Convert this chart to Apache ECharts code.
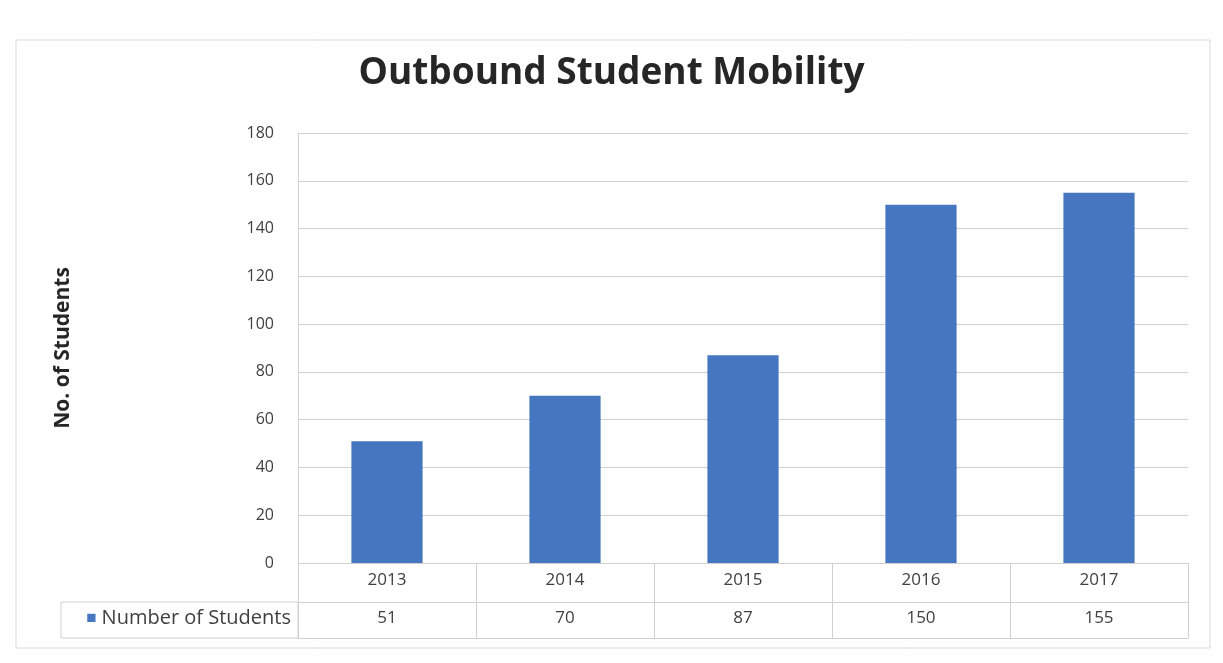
<!DOCTYPE html>
<html>
<head>
<meta charset="utf-8">
<script src="https://cdn.jsdelivr.net/npm/echarts@6/dist/echarts.min.js"></script>
<style>
html,body{margin:0;padding:0;background:#fff;}
#main{width:1223px;height:663px;}
</style>
</head>
<body>
<div id="main"></div>
<script>
const categories = ['2013', '2014', '2015', '2016', '2017'];
const studentCounts = [51, 70, 87, 150, 155];
const seriesName = 'Number of Students';
const yTicks = { min: 0, max: 180, interval: 20 };

const chart = echarts.init(document.getElementById('main'));
const lineColor = '#d0d0d0';
const barColor = '#4676c0';
const textColor = '#404040';
const fontFamily = '"Open Sans", "Liberation Sans", sans-serif';

chart.setOption({
  backgroundColor: '#ffffff',
  animation: false,
  title: {
    text: 'Outbound Student Mobility',
    left: 'center',
    top: 50,
    textStyle: { fontFamily: fontFamily, fontSize: 37, fontWeight: 'bold', color: '#262626' }
  },
  grid: { left: 298, right: 35, top: 133, bottom: 100, containLabel: false },
  xAxis: [
    {
      type: 'category',
      data: categories,
      position: 'bottom',
      axisLine: { show: true, lineStyle: { color: lineColor, width: 1 } },
      axisTick: { show: true, length: 39, lineStyle: { color: lineColor } },
      axisLabel: { color: textColor, fontFamily: fontFamily, fontSize: 17, margin: 9 }
    },
    {
      type: 'category',
      data: studentCounts.map(String),
      position: 'bottom',
      offset: 39,
      axisLine: { show: true, lineStyle: { color: lineColor, width: 1 } },
      axisTick: { show: true, length: 36, lineStyle: { color: lineColor } },
      axisLabel: { color: textColor, fontFamily: fontFamily, fontSize: 17, margin: 8 },
      name: '{sq|■} ' + seriesName,
      nameLocation: 'start',
      nameGap: 7,
      nameTextStyle: {
        color: textColor, fontFamily: fontFamily, fontSize: 20,
        verticalAlign: 'top', padding: [6, 0, 0, 0],
        rich: { sq: { color: barColor, fontSize: 17 } }
      }
    },
    {
      type: 'category',
      data: categories,
      position: 'bottom',
      offset: 75,
      axisLine: { show: true, lineStyle: { color: lineColor, width: 1 } },
      axisTick: { show: false },
      axisLabel: { show: false }
    }
  ],
  yAxis: {
    type: 'value',
    min: yTicks.min,
    max: yTicks.max,
    interval: yTicks.interval,
    name: 'No. of Students',
    nameLocation: 'middle',
    nameGap: 224,
    nameRotate: 90,
    nameTextStyle: { color: '#262626', fontFamily: fontFamily, fontSize: 21, fontWeight: 'bold' },
    axisLine: { show: true, lineStyle: { color: lineColor } },
    axisTick: { show: false },
    axisLabel: { color: textColor, fontFamily: fontFamily, fontSize: 16, margin: 24 },
    splitLine: { show: true, lineStyle: { color: lineColor, width: 1 } }
  },
  series: [
    {
      name: seriesName,
      type: 'bar',
      data: studentCounts,
      barWidth: '40%',
      itemStyle: { color: barColor }
    }
  ],
  graphic: [
    {
      type: 'rect',
      shape: { x: 16, y: 40, width: 1194, height: 608 },
      style: { fill: 'none', stroke: '#d9d9d9', lineWidth: 1 },
      silent: true
    },
    {
      type: 'rect',
      shape: { x: 61, y: 602, width: 237, height: 36 },
      style: { fill: 'none', stroke: lineColor, lineWidth: 1 },
      silent: true
    }
  ]
});
</script>
</body>
</html>
